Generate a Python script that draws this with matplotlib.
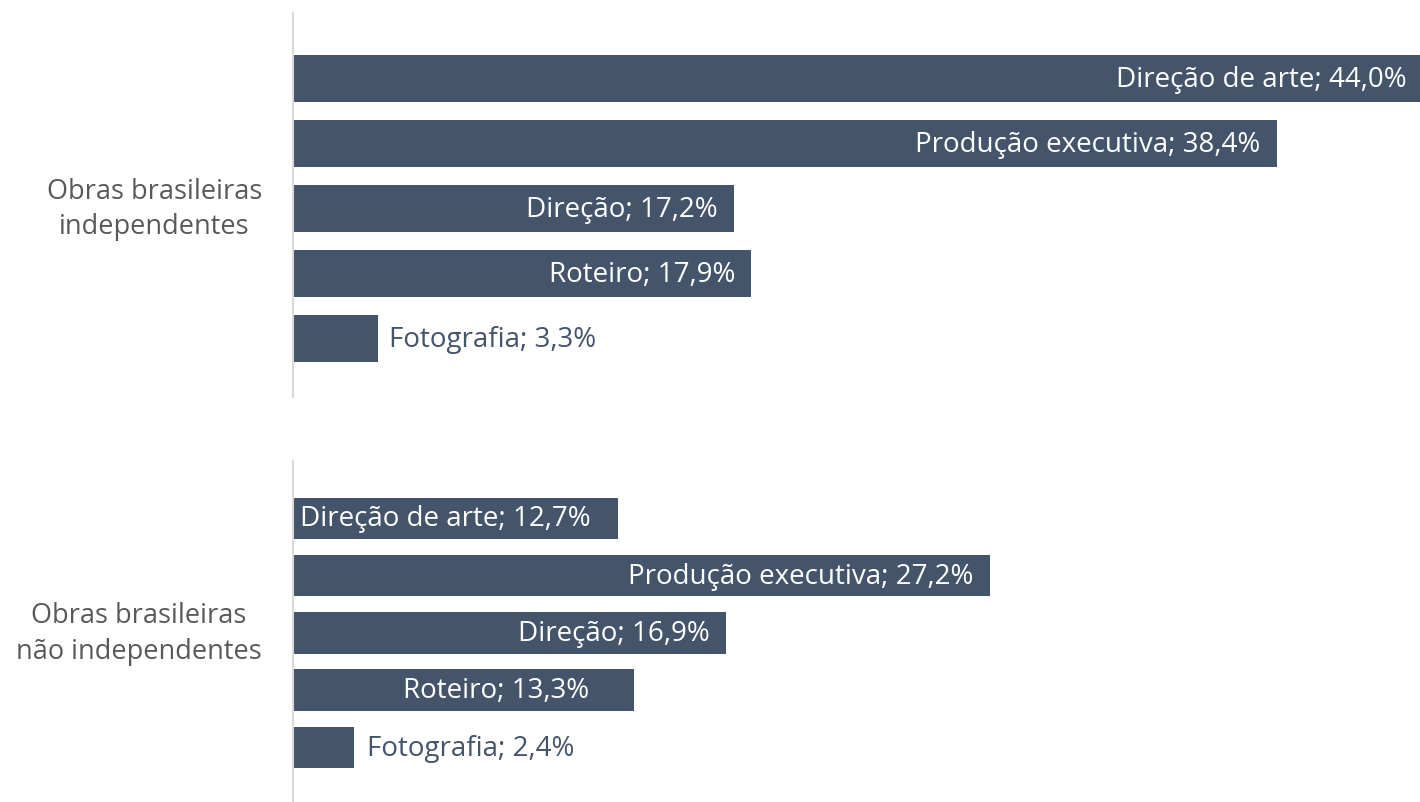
import matplotlib
matplotlib.use("Agg")
import matplotlib.pyplot as plt

plt.rcParams['font.family'] = ['Open Sans', 'DejaVu Sans']

funcoes = ['Direção de arte', 'Produção executiva', 'Direção', 'Roteiro', 'Fotografia']
grupos = ['Obras brasileiras\nindependentes', 'Obras brasileiras\nnão independentes']
indep = [44.0, 38.4, 17.2, 17.9, 3.3]
nao_indep = [12.7, 27.2, 16.9, 13.3, 2.4]

# onde fica o rótulo de cada barra: fim interno, base interna ou fora
modo_indep = ['end', 'end', 'end', 'end', 'out']
modo_nao_indep = ['base', 'end', 'end', 'end', 'out']
pad_indep = [13, 16, 16, 16, 11]
pad_nao_indep = [7, 16, 16, 45, 13]

COR_BARRA = '#44546A'
COR_EIXO = '#D9D9D9'
COR_CAT = '#595959'
W, H = 1420, 803
FS = 20


def desenha(ax, valores, modos, pads, grupo, ylim):
    y = list(range(len(valores)))
    ax.barh(y, valores, height=0.725, color=COR_BARRA, zorder=2)
    ax.set_xlim(0, 44)
    ax.set_ylim(*ylim)
    for s in ['top', 'right', 'bottom']:
        ax.spines[s].set_visible(False)
    ax.spines['left'].set_color(COR_EIXO)
    ax.spines['left'].set_linewidth(1.5)
    ax.set_xticks([])
    ax.set_yticks([])

    for i, (nome, v) in enumerate(zip(funcoes, valores)):
        txt = f'{nome}; {v:.1f}%'.replace('.', ',')
        m, p = modos[i], pads[i]
        if m == 'end':
            ax.annotate(txt, (v, i), xytext=(-p, 0), textcoords='offset pixels',
                        ha='right', va='center', color='white', fontsize=FS)
        elif m == 'base':
            ax.annotate(txt, (0, i), xytext=(p, 0), textcoords='offset pixels',
                        ha='left', va='center', color='white', fontsize=FS)
        else:
            ax.annotate(txt, (v, i), xytext=(p, 0), textcoords='offset pixels',
                        ha='left', va='center', color=COR_BARRA, fontsize=FS)

    ax.annotate(grupo, (0, 2), xytext=(-31, 0), textcoords='offset pixels',
                ha='right', va='center', multialignment='center',
                color=COR_CAT, fontsize=19.5, linespacing=1.37,
                annotation_clip=False)


fig = plt.figure(figsize=(W / 100, H / 100), dpi=100)
esq = 293 / W
larg = (W - 293) / W

ax1 = fig.add_axes([esq, (H - 398) / H, larg, 384 / H])
desenha(ax1, indep, modo_indep, pad_indep, grupos[0], (4.9, -1.008))

ax2 = fig.add_axes([esq, 0, larg, 341 / H])
desenha(ax2, nao_indep, modo_nao_indep, pad_nao_indep, grupos[1], (4.95, -1.0))

fig.savefig('out.png', dpi=100)
